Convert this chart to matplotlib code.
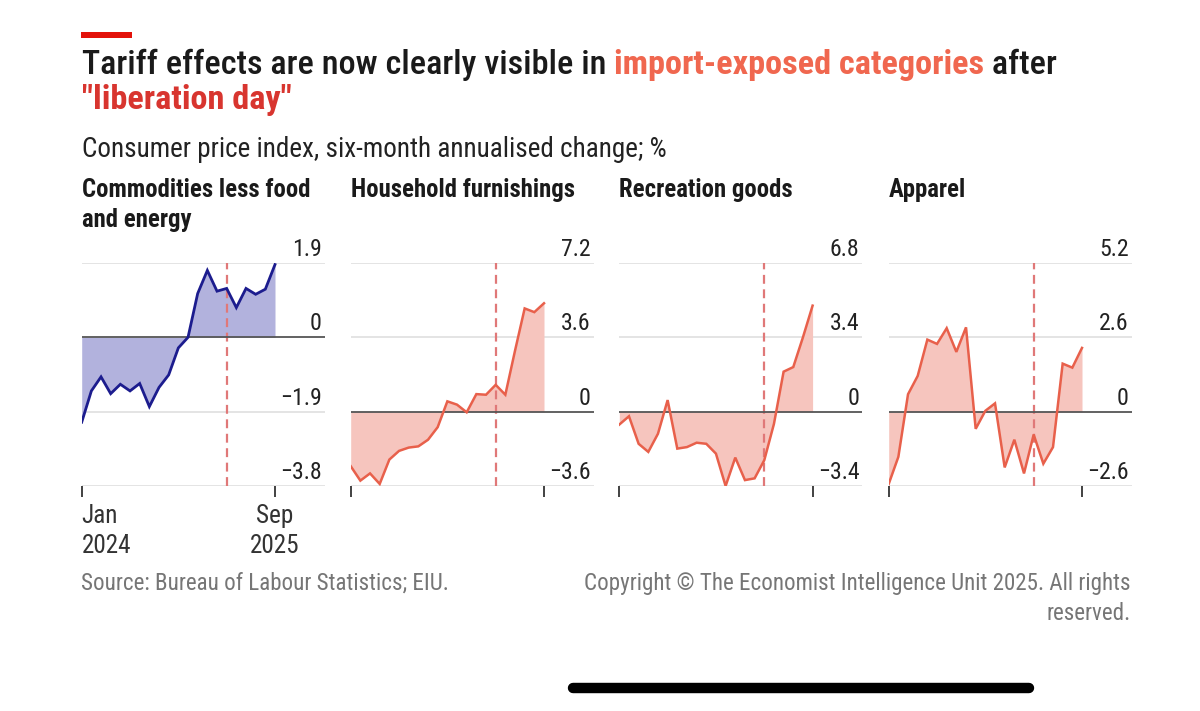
import matplotlib
matplotlib.use("Agg")
import matplotlib.pyplot as plt
from matplotlib import font_manager as fm
from matplotlib.lines import Line2D
from matplotlib.patches import Rectangle
import matplotlib.transforms as mtransforms

# ---------------- data ----------------
months = list(range(21))            # Jan 2024 ... Sep 2025, monthly
liberation_idx = 15                 # Apr 2025
panel_titles = [["Commodities less food", "and energy"], ["Household furnishings"],
                ["Recreation goods"], ["Apparel"]]
core = [-2.17, -1.37, -1.01, -1.44, -1.20, -1.37, -1.18, -1.77, -1.28, -0.96, -0.27,
        0.00, 1.12, 1.71, 1.18, 1.25, 0.76, 1.25, 1.10, 1.23, 1.86]
furnishings = [-2.64, -3.34, -2.99, -3.50, -2.32, -1.90, -1.74, -1.68, -1.36, -0.75, 0.50,
               0.34, -0.03, 0.85, 0.82, 1.30, 0.82, 2.95, 5.00, 4.82, 5.25]
recreation = [-0.59, -0.21, -1.47, -1.84, -1.01, 0.53, -1.69, -1.62, -1.42, -1.47, -1.92,
              -3.40, -2.10, -3.13, -3.05, -2.22, -0.56, 1.83, 2.04, 3.40, 4.85]
apparel = [-2.53, -1.58, 0.61, 1.25, 2.52, 2.37, 2.92, 2.09, 2.95, -0.60, 0.03,
           0.29, -1.95, -0.98, -2.16, -0.80, -1.82, -1.24, 1.68, 1.54, 2.23]
series = [core, furnishings, recreation, apparel]
yticks = [[-3.8, -1.9, 0, 1.9], [-3.6, 0, 3.6, 7.2], [-3.4, 0, 3.4, 6.8], [-2.6, 0, 2.6, 5.2]]
x_tick_labels = ["Jan\n2024", "Sep\n2025"]

# ---------------- style ----------------
avail = {f.name for f in fm.fontManager.ttflist}
FONT = "DejaVu Sans"
for cand in ["Roboto Condensed", "Liberation Sans Narrow", "Roboto"]:
    if cand in avail:
        FONT = cand
        break
plt.rcParams["font.family"] = [FONT, "DejaVu Sans"]

DARK = "#1a1a1a"
GREY = "#767676"
BLUE_LINE = "#1c1c8e"
BLUE_FILL = "#b2b2dd"
RED_LINE = "#e8604b"
RED_FILL = "#f6c5be"
DASH = "#e07878"

W, H = 1200, 711
fig = plt.figure(figsize=(W / 100, H / 100), dpi=100)
fig.patch.set_facecolor("white")
R = fig.canvas.get_renderer()


def fx(x):
    return x / W


def fy(y):
    return 1 - y / H


def width_px(s, size, weight="normal"):
    t = fig.text(0, 0, s, fontsize=size, fontweight=weight)
    w = t.get_window_extent(R).width
    t.remove()
    return w


def fit(s, target, weight="normal"):
    return 20 * target / width_px(s, 20, weight)


# red bar
fig.add_artist(Rectangle((fx(81), fy(37.5)), fx(132) - fx(81), fy(32) - fy(37.5),
                         transform=fig.transFigure, color="#e3120b", lw=0))

# title (mixed colours)
parts = [("Tariff effects are now clearly visible in ", DARK, "medium"),
         ("import-exposed categories", "#f0674f", "bold"),
         (" after", DARK, "medium")]
tot = sum(width_px(s, 20, w) for s, c, w in parts)
tsize = 20 * 976 / tot
x = 82
for s, c, w in parts:
    t = fig.text(fx(x), fy(74), s, fontsize=tsize, fontweight=w, color=c, va="baseline")
    x += t.get_window_extent(R).width
fig.text(fx(82), fy(109), '"liberation day"', fontsize=tsize, fontweight="bold",
         color="#d8352f", va="baseline")

# subtitle
sub = "Consumer price index, six-month annualised change; %"
fig.text(fx(82), fy(157), sub, fontsize=fit(sub, 585), color="#222222", va="baseline")

# panels
lefts = [81.7, 350.7, 619.3, 888.7]
ax_w = 243
data_w = 193.3
top_px, bot_px = 263, 486
ptsize = fit("Household furnishings", 224, "bold")
ticksize = fit("\u22123.8", 42)
xlsize = fit("2024", 50)

for i in range(4):
    L = lefts[i]
    ax = fig.add_axes([fx(L), fy(bot_px), ax_w / W, (bot_px - top_px) / H])
    yt = yticks[i]
    ax.set_ylim(yt[0], yt[-1])
    ax.set_xlim(0, (len(months) - 1) * ax_w / data_w)
    for s in ax.spines.values():
        s.set_visible(False)
    ax.set_yticks([])
    vals = series[i]
    line_c = BLUE_LINE if i == 0 else RED_LINE
    fill_c = BLUE_FILL if i == 0 else RED_FILL
    for v in yt:
        if v != 0:
            ax.axhline(v, color="#dcdcdc", lw=1.1, zorder=1)
    ax.fill_between(months, vals, 0, color=fill_c, lw=0, zorder=2)
    ax.axvline(liberation_idx, color=DASH, lw=1.6, ls=(0, (4, 2.5)), zorder=3)
    ax.axhline(0, color="#555555", lw=1.3, zorder=4)
    ax.plot(months, vals, color=line_c, lw=2.0 if i == 0 else 1.8, zorder=5,
            solid_joinstyle="miter")
    # y labels above gridlines, right aligned
    trans = mtransforms.offset_copy(ax.get_yaxis_transform(), fig=fig, x=-3, y=7, units="dots")
    for v in yt:
        lab = f"{abs(v):g}" if v != 0 else "0"
        if v < 0:
            lab = "\u2212" + f"{abs(v):g}"
        ax.text(1.0, v, lab, transform=trans, ha="right", va="baseline",
                fontsize=ticksize, color="#222222")
    # x ticks
    ax.set_xticks([months[0], months[-1]])
    ax.tick_params(axis="x", direction="out", length=8, width=1.3, color="#333333",
                   labelbottom=False)
    # panel title (one text per line)
    for k, line in enumerate(panel_titles[i]):
        fig.text(fx(L), fy(197 + 30 * k), line, fontsize=ptsize, fontweight="bold",
                 color=DARK, va="baseline")
    if i == 0:
        tr = mtransforms.blended_transform_factory(ax.transData, fig.transFigure)
        ax.text(months[0], fy(553), x_tick_labels[0], transform=tr, ha="left",
                va="baseline", fontsize=xlsize, color="#333333", linespacing=1.3)
        ax.text(months[-1], fy(553), x_tick_labels[1], transform=tr, ha="center",
                va="baseline", fontsize=xlsize, color="#333333", linespacing=1.3)

# footer
src = "Source: Bureau of Labour Statistics; EIU."
fig.text(fx(81), fy(590), src, fontsize=fit(src, 365), color=GREY, va="baseline")
cp1 = "Copyright \u00a9 The Economist Intelligence Unit 2025. All rights"
cps = fit(cp1, 545)
fig.text(fx(1131), fy(590), cp1, fontsize=cps, color=GREY, va="baseline", ha="right")
fig.text(fx(1131), fy(620), "reserved.", fontsize=cps, color=GREY, va="baseline", ha="right")

# phone home indicator
fig.add_artist(Line2D([fx(573), fx(1029)], [fy(688), fy(688)], transform=fig.transFigure,
                      lw=7.5, color="black", solid_capstyle="round"))

fig.savefig("out.png", dpi=100, facecolor="white")
